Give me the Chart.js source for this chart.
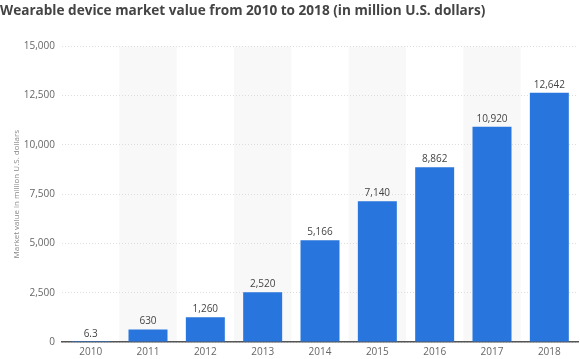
<!DOCTYPE html>
<html>
<head>
    <script src="https://cdn.jsdelivr.net/npm/chart.js@4"></script>
    <style>
        body { margin: 0; background: #fff; }
        #wrap { width: 580px; height: 359px; }
    </style>
</head>
<body>
    <div id="wrap"><canvas id="myChart"></canvas></div>
    <script>
        const years = ['2010', '2011', '2012', '2013', '2014', '2015', '2016', '2017', '2018'];
        const values = [6.3, 630, 1260, 2520, 5166, 7140, 8862, 10920, 12642];
        const valueLabels = ['6.3', '630', '1,260', '2,520', '5,166', '7,140', '8,862', '10,920', '12,642'];
        const yTicks = [0, 2500, 5000, 7500, 10000, 12500, 15000];

        // light stripes behind every other year
        const stripes = {
            id: 'stripes',
            beforeDraw(chart) {
                const ctx = chart.ctx;
                const x = chart.scales.x;
                const area = chart.chartArea;
                const w = (area.right - area.left) / years.length;
                ctx.save();
                ctx.fillStyle = '#f8f8f8';
                for (let i = 1; i < years.length; i += 2) {
                    const cx = x.getPixelForValue(i);
                    ctx.fillRect(cx - w / 2, area.top, w, area.bottom - area.top);
                }
                ctx.restore();
            }
        };

        // value above each bar
        const barLabels = {
            id: 'barLabels',
            afterDatasetsDraw(chart) {
                const ctx = chart.ctx;
                const meta = chart.getDatasetMeta(0);
                ctx.save();
                ctx.font = '10px "Open Sans"';
                ctx.fillStyle = '#444';
                ctx.textAlign = 'center';
                ctx.textBaseline = 'bottom';
                meta.data.forEach(function (bar, i) {
                    ctx.fillText(valueLabels[i], bar.x, bar.y - 3);
                });
                ctx.restore();
            }
        };

        new Chart(document.getElementById('myChart'), {
            type: 'bar',
            data: {
                labels: years,
                datasets: [{
                    data: values,
                    backgroundColor: '#2876dd',
                    categoryPercentage: 1,
                    barPercentage: 0.68
                }]
            },
            options: {
                responsive: true,
                maintainAspectRatio: false,
                animation: false,
                layout: { padding: { left: 0, right: 2, top: 0, bottom: 0 } },
                plugins: {
                    legend: { display: false },
                    tooltip: { enabled: false },
                    title: {
                        display: true,
                        text: 'Wearable device market value from 2010 to 2018 (in million U.S. dollars)',
                        align: 'start',
                        color: '#444',
                        font: { family: '"Open Sans"', size: 13.6, weight: 'bold' },
                        padding: { top: 3, bottom: 27 }
                    }
                },
                scales: {
                    x: {
                        grid: { display: false, drawTicks: false },
                        border: { color: '#555', width: 1.5 },
                        ticks: { color: '#666', font: { family: '"Open Sans"', size: 10 }, padding: 4 },
                        afterFit(scale) { scale.height = 17; }
                    },
                    y: {
                        min: 0,
                        max: 15000,
                        afterBuildTicks(scale) { scale.ticks = yTicks.map(v => ({ value: v })); },
                        grid: { color: '#ddd', drawTicks: false },
                        border: { display: false, dash: [1, 2] },
                        ticks: {
                            color: '#666',
                            padding: 7,
                            font: { family: '"Open Sans"', size: 10 },
                            callback: v => v.toLocaleString('en-US')
                        },
                        title: {
                            display: true,
                            text: 'Market value in million U.S. dollars',
                            color: '#888',
                            font: { family: '"Open Sans"', size: 8 },
                            padding: { top: 12, bottom: 4 }
                        },
                        afterFit(scale) { scale.width = 62; }
                    }
                }
            },
            plugins: [stripes, barLabels]
        });
    </script>
</body>
</html>
